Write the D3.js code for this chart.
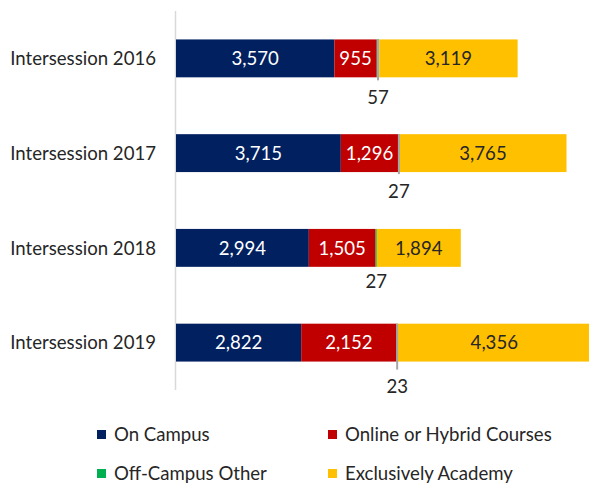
<!DOCTYPE html>
<html>
<head>
<meta charset="utf-8">
<script src="https://cdn.jsdelivr.net/npm/d3@7"></script>
<style>
  body { margin: 0; background: #fff; }
  text { font-family: Lato, "Liberation Sans", sans-serif; }
</style>
</head>
<body>
<div id="chart"></div>
<script>
var categories = ["Intersession 2016", "Intersession 2017", "Intersession 2018", "Intersession 2019"];
var seriesNames = ["On Campus", "Online or Hybrid Courses", "Off-Campus Other", "Exclusively Academy"];
var onCampus = [3570, 3715, 2994, 2822];
var onlineHybrid = [955, 1296, 1505, 2152];
var offCampus = [57, 27, 27, 23];
var academy = [3119, 3765, 1894, 4356];

var colors = ["#002060", "#C00000", "#00B050", "#FFC000"];
var labelColors = ["#ffffff", "#ffffff", "#262626", "#262626"];
// how far below the bar the small off-campus label sits
var smallLabelDrop = [20, 19, 14, 25];

var width = 589, height = 485;
var fontSize = "18.6px";
var svg = d3.select("#chart").append("svg")
    .attr("width", width)
    .attr("height", height);

var rows = categories.map(function (c, i) {
    return { cat: c, vals: [onCampus[i], onlineHybrid[i], offCampus[i], academy[i]] };
});

var x = d3.scaleLinear().domain([0, 9400]).range([176, 593]);
var y = d3.scaleBand().domain(categories).range([11, 390]).paddingInner(0.6).paddingOuter(0.3);

// category axis line
svg.append("line")
    .attr("x1", 175.5).attr("x2", 175.5)
    .attr("y1", 11).attr("y2", 390)
    .attr("stroke", "#d9d9d9")
    .attr("stroke-width", 1.5);

var stack = d3.stack().keys([0, 1, 2, 3]).value(function (d, k) { return d.vals[k]; });
var layers = stack(rows);

var g = svg.append("g");
layers.forEach(function (layer, k) {
    g.selectAll(null)
        .data(layer)
        .enter().append("rect")
        .attr("x", function (d) { return x(d[0]); })
        .attr("y", function (d) { return y(d.data.cat); })
        .attr("width", function (d) { return x(d[1]) - x(d[0]); })
        .attr("height", y.bandwidth())
        .attr("fill", colors[k]);
});

// leader lines for the thin off-campus segment
layers[2].forEach(function (d, i) {
    var ext = smallLabelDrop[i] - 17;
    if (ext <= 0) return;
    var cx = (x(d[0]) + x(d[1])) / 2;
    svg.append("line")
        .attr("x1", cx).attr("x2", cx)
        .attr("y1", y(d.data.cat))
        .attr("y2", y(d.data.cat) + y.bandwidth() + ext)
        .attr("stroke", "#a6a6a6")
        .attr("stroke-width", 2);
});

// value labels
layers.forEach(function (layer, k) {
    layer.forEach(function (d, i) {
        var cx = (x(d[0]) + x(d[1])) / 2;
        var cy = y(d.data.cat) + y.bandwidth() / 2;
        if (k == 2) cy = y(d.data.cat) + y.bandwidth() + smallLabelDrop[i];
        svg.append("text")
            .attr("x", cx)
            .attr("y", cy)
            .attr("dy", "0.36em")
            .attr("text-anchor", "middle")
            .attr("font-size", fontSize)
            .attr("fill", labelColors[k])
            .text(d3.format(",")(d.data.vals[k]));
    });
});

// category labels
svg.selectAll(".cat")
    .data(categories)
    .enter().append("text")
    .attr("class", "cat")
    .attr("x", 156)
    .attr("y", function (d) { return y(d) + y.bandwidth() / 2; })
    .attr("dy", "0.36em")
    .attr("text-anchor", "end")
    .attr("font-size", fontSize)
    .attr("fill", "#262626")
    .text(function (d) { return d; });

// legend
var legendPos = [[97, 430], [328, 430], [97, 469], [328, 469]];
seriesNames.forEach(function (name, k) {
    var lg = svg.append("g").attr("transform", "translate(" + legendPos[k][0] + "," + legendPos[k][1] + ")");
    lg.append("rect").attr("width", 9).attr("height", 9).attr("fill", colors[k]);
    lg.append("text")
        .attr("x", 17).attr("y", 4.5)
        .attr("dy", "0.36em")
        .attr("font-size", fontSize)
        .attr("fill", "#262626")
        .text(name);
});
</script>
</body>
</html>
